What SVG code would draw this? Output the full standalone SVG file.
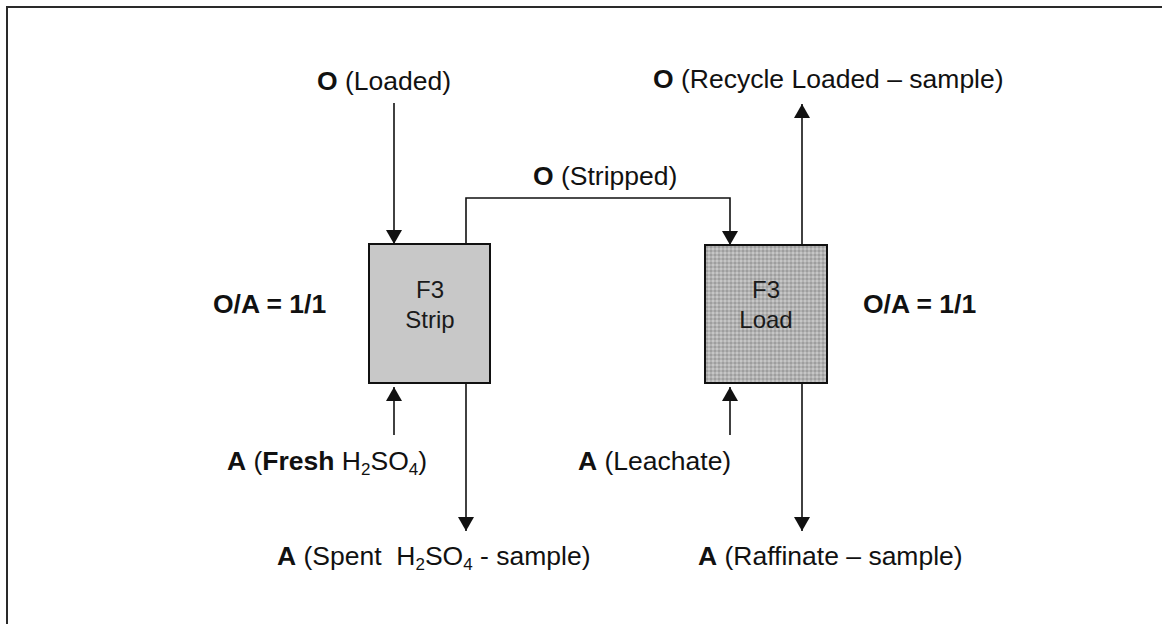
<svg xmlns="http://www.w3.org/2000/svg" width="1162" height="624" viewBox="0 0 1162 624">
  <style>
    .lbl { font-family: "Liberation Sans", Arial, sans-serif; font-size: 26.5px; fill: #111; }
    .b { font-weight: bold; }
    .box-text { font-family: "Liberation Sans", Arial, sans-serif; font-size: 24px; fill: #1a1a1a; text-anchor: middle; }
    .sub { font-size: 17px; }
    .flow { fill: none; stroke: #111; stroke-width: 1.6; }
    .frame { fill: none; stroke: #2a2a2a; stroke-width: 2; }
  </style>
  <defs>
    <marker id="arrow" viewBox="0 0 14 16" refX="14" refY="8" markerWidth="14" markerHeight="16" markerUnits="userSpaceOnUse" orient="auto">
      <path d="M0,0 L14,8 L0,16 Z" fill="#111"/>
    </marker>
    <!-- stippled fill for the load cell -->
    <pattern id="stipple" width="4" height="4" patternUnits="userSpaceOnUse">
      <rect width="4" height="4" fill="#b2b2b2"/>
      <rect x="0" y="0" width="2" height="2" fill="#c6c6c6"/>
      <rect x="2" y="2" width="2" height="2" fill="#9e9e9e"/>
    </pattern>
  </defs>

  <rect width="1162" height="624" fill="#ffffff"/>

  <!-- page frame -->
  <path class="frame" d="M7,624 L7,7 L1162,7"/>

  <!-- connectors -->
  <g id="connectors">
    <line class="flow" x1="394" y1="103" x2="394" y2="244" marker-end="url(#arrow)"/>
    <polyline class="flow" points="466,244 466,198 730,198 730,245" marker-end="url(#arrow)"/>
    <line class="flow" x1="394" y1="435" x2="394" y2="387" marker-end="url(#arrow)"/>
    <line class="flow" x1="466" y1="384" x2="466" y2="531" marker-end="url(#arrow)"/>
    <line class="flow" x1="802" y1="245" x2="802" y2="104" marker-end="url(#arrow)"/>
    <line class="flow" x1="730" y1="435" x2="730" y2="387" marker-end="url(#arrow)"/>
    <line class="flow" x1="802" y1="384" x2="802" y2="531" marker-end="url(#arrow)"/>
  </g>

  <!-- strip cell -->
  <g id="strip">
    <rect x="369" y="244" width="121" height="139" fill="#c8c8c8" stroke="#111" stroke-width="2"/>
    <text class="box-text" x="430" y="298">F3</text>
    <text class="box-text" x="430" y="328">Strip</text>
  </g>

  <!-- load cell -->
  <g id="load">
    <rect x="705" y="245" width="122" height="138" fill="url(#stipple)" stroke="#111" stroke-width="2"/>
    <text class="box-text" x="766" y="298">F3</text>
    <text class="box-text" x="766" y="328">Load</text>
  </g>

  <!-- stream labels -->
  <g id="labels">
    <text class="lbl" x="317" y="90"><tspan class="b">O</tspan> (Loaded)</text>
    <text class="lbl" x="653" y="88"><tspan class="b">O</tspan> (Recycle Loaded – sample)</text>
    <text class="lbl" x="533" y="185"><tspan class="b">O</tspan> (Stripped)</text>
    <text class="lbl b" x="213" y="313">O/A = 1/1</text>
    <text class="lbl b" x="863" y="313">O/A = 1/1</text>
    <text class="lbl" x="227" y="470"><tspan class="b">A</tspan> (<tspan class="b">Fresh</tspan> H<tspan class="sub" dy="5">2</tspan><tspan dy="-5">SO</tspan><tspan class="sub" dy="5">4</tspan><tspan dy="-5">)</tspan></text>
    <text class="lbl" x="578" y="470"><tspan class="b">A</tspan> (Leachate)</text>
    <text class="lbl" x="277" y="565" xml:space="preserve"><tspan class="b">A</tspan> (Spent  H<tspan class="sub" dy="5">2</tspan><tspan dy="-5">SO</tspan><tspan class="sub" dy="5">4</tspan><tspan dy="-5"> - sample)</tspan></text>
    <text class="lbl" x="698" y="565"><tspan class="b">A</tspan> (Raffinate – sample)</text>
  </g>
</svg>
